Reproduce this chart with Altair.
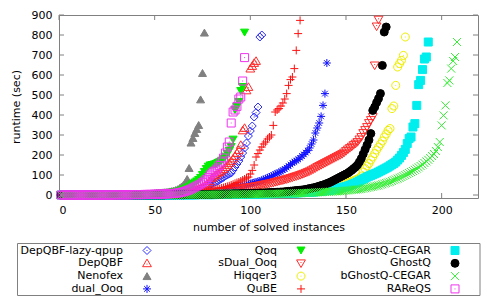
import altair as alt
import pandas as pd

series_names = ["DepQBF-lazy-qpup", "DepQBF", "Nenofex", "dual_Ooq",
                "Qoq", "sDual_Ooq", "Hiqqer3", "QuBE",
                "GhostQ-CEGAR", "GhostQ", "bGhostQ-CEGAR", "RAReQS"]
series_colors = ["#2a2aff", "#ff2a2a", "#808080", "#1010ff",
                 "#00ee00", "#ff2a2a", "#eeee00", "#ff1010",
                 "#00eeee", "#000000", "#33ee33", "#ee33ee"]

x_ticks = [0, 50, 100, 150, 200]
y_ticks = [0, 100, 200, 300, 400, 500, 600, 700, 800, 900]

depqbf_lazy = [
    0,0,0,0,0,0,0,0,0,0, 0,0,0,0,0,0,0,0,0,0, 0,0,0,0,0,0,0,0,0,1,
    1,1,1,1,1,1,1,1,2,2, 2,2,2,2,2,3,3,3,3,3, 4,4,4,5,5,5,6,6,7,7,
    8,9,10,11,12,13,15,17,18,20, 22,24,27,30,33,36,40,45,50,58,
    62,66,70,76,82,88,95,100,105,110, 125,140,155,170,190,210,235,260,295,320,
    345,390,412,440,790,800]
depqbf = [
    0,0,0,0,0,0,0,0,0,0, 0,0,0,0,0,0,0,0,0,0, 0,0,0,0,0,0,0,1,1,1,
    1,1,1,1,1,2,2,2,2,2, 2,3,3,3,3,3,4,4,4,4, 5,5,5,6,6,6,7,7,8,8,
    9,10,11,12,13,14,16,18,20,22, 25,28,31,35,40,45,52,60,70,85,
    92,100,108,115,122,130,140,150,160,170, 182,195,210,225,250,323,335,523,540,632,
    645,660,670]
nenofex = [
    0,0,0,0,0,0,0,0,0,0, 0,0,0,0,0,0,0,0,0,1, 1,1,1,1,1,1,1,2,2,2,
    2,2,2,3,3,3,3,4,4,4, 5,5,5,6,6,7,7,8,8,9, 10,11,12,13,14,15,16,18,20,22,
    25,29,35,42,50,62,80, 135,262,285,310,330,350,478,610,812]
dual_ooq = [
    0,0,0,0,0,0,0,0,0,0, 0,0,0,0,0,0,0,0,0,0, 0,0,0,0,0,0,0,0,0,0,
    0,0,0,0,0,0,0,1,1,1, 1,1,1,1,1,1,1,2,2,2, 2,2,2,2,3,3,3,3,3,3,
    4,4,4,5,5,5,6,6,7,8, 8,9,10,11,11,12,13,14,16,18,
    19,20,21,22,24,25,27,29,31,34, 36,38,40,42,44,46,48,51,54,57,
    60,62,65,68,70,74,78,82,86,90, 94,99,104,109,113,118,124,130,137,145,
    152,160,166,172,178,186,195,203,212,222, 235,255,275,310,335,360,393,448,507,660]
qoq = [
    0,0,0,0,0,0,0,0,0,0, 0,0,0,0,0,0,0,0,0,0, 0,0,0,0,0,1,1,1,1,1,
    1,1,1,1,2,2,2,2,2,2, 3,3,3,3,3,4,4,4,5,5, 5,6,6,7,7,8,9,10,11,12,
    14,16,18,22,26,30,35,40,48,55, 62,68,75,85,100,115,130,142,148,150,
    152,155,160,165,172,180,192,205,220,240, 277,425,440,465,520,540,812]
sdual_ooq = [
    0,0,0,0,0,0,0,0,0,0, 0,0,0,0,0,0,0,0,0,0, 0,0,0,0,0,0,0,0,0,0,
    0,0,0,0,0,0,0,0,0,0, 0,0,0,1,1,1,1,1,1,1, 1,1,2,2,2,2,2,3,3,3,
    3,4,4,4,5,5,5,6,6,7, 7,8,8,9,10,10,11,12,13,14,
    15,16,17,18,19,20,21,23,24,25, 27,28,29,31,32,34,35,37,38,40,
    41,43,44,46,48,50,52,54,56,58, 60,62,65,67,70,72,74,77,79,82,
    85,88,91,94,97,100,104,107,111,115, 119,124,129,134,140,145,150,155,160,165,
    170,175,180,185,190,195,200,205,212,220, 228,235,242,250,257,265,278,290,310,325,
    340,360,375,390,648,843,877]
hiqqer3 = [
    0,0,0,0,0,0,0,0,0,0, 0,0,0,0,0,0,0,0,0,0, 0,0,0,0,0,0,0,0,0,0,
    0,0,0,0,0,0,0,0,0,0, 0,0,0,0,0,0,0,0,0,0, 0,0,0,0,0,0,1,1,1,1,
    1,1,1,1,1,1,1,2,2,2, 2,2,2,2,2,2,3,3,3,3,
    3,3,3,4,4,4,4,4,4,5, 5,5,5,5,6,6,6,6,7,7,
    7,7,8,8,8,9,9,9,10,10, 10,11,11,12,12,13,13,14,14,15,
    15,16,17,18,19,20,21,22,23,24, 25,26,27,28,29,30,31,33,35,37,
    39,41,43,45,47,49,51,53,56,59, 62,65,68,72,76,80,85,95,115,132,
    145,157,175,190,207,225,240,255,270,290, 305,323,332,432,445,548,640,657,673,698,
    790]
qube = [
    0,0,0,0,0,0,0,0,0,0, 0,0,0,0,0,0,0,0,0,0, 0,0,0,0,0,0,0,0,0,0,
    0,0,0,0,0,1,1,1,1,1, 1,1,1,1,2,2,2,2,2,2, 3,3,3,3,3,4,4,4,5,5,
    5,6,6,7,7,8,8,9,10,11, 12,13,14,15,16,18,19,20,22,24,
    26,28,30,32,35,37,40,43,46,50, 54,58,62,65,70,75,80,85,90,105,
    123,150,190,207,225,240,255,265,280,290, 300,348,415,425,432,445,460,480,507,548,
    577,590,632,723,807,873]
ghostq_cegar = [
    0,0,0,0,0,0,0,0,0,0, 0,0,0,0,0,0,0,0,0,0, 0,0,0,0,0,0,0,0,0,0,
    0,0,0,0,0,0,0,0,0,0, 0,0,0,0,0,0,0,0,0,0, 0,0,0,0,0,0,0,0,0,1,
    1,1,1,1,1,1,1,1,1,1, 1,2,2,2,2,2,2,2,2,2,
    2,3,3,3,3,3,3,3,3,3, 4,4,4,4,4,4,4,4,5,5,
    5,5,5,5,6,6,6,6,6,7, 7,7,7,8,8,8,8,9,9,9,
    10,10,10,11,11,12,12,13,13,14, 14,15,15,16,17,18,19,20,21,22,
    23,25,27,29,31,33,35,37,40,42, 45,48,52,56,60,65,70,75,80,85,
    90,94,98,102,106,110,115,120,125,130, 135,140,146,152,158,165,175,185,198,212,
    228,257,282,290,340,357,448,552,573,627, 680,690,765]
ghostq = [
    0,0,0,0,0,0,0,0,0,0, 0,0,0,0,0,0,0,0,0,0, 0,0,0,0,0,0,0,0,0,0,
    0,0,0,0,0,0,0,0,0,0, 0,0,0,0,0,0,0,0,0,0, 0,0,0,0,0,1,1,1,1,1,
    1,1,1,1,1,2,2,2,2,2, 2,2,2,3,3,3,3,3,3,3,
    4,4,4,4,4,5,5,5,5,5, 6,6,6,6,7,7,7,7,8,8,
    8,9,9,9,10,10,10,11,11,12, 12,13,13,14,14,15,15,16,17,18,
    19,20,21,22,23,24,25,26,28,30, 32,34,36,38,41,44,47,50,53,57,
    61,65,70,75,80,85,90,95,100,105, 110,117,124,132,140,150,165,182,205,228,
    250,275,307,423,440,462,482,507,648,815, 840]
bghostq_cegar = [
    0,0,0,0,0,0,0,0,0,0, 0,0,0,0,0,0,0,0,0,0, 0,0,0,0,0,0,0,0,0,0,
    0,0,0,0,0,0,0,0,0,0, 0,0,0,0,0,0,0,0,0,0, 0,0,0,0,0,0,0,0,0,0,
    0,0,0,1,1,1,1,1,1,1, 1,1,1,1,1,1,1,2,2,2,
    2,2,2,2,2,2,2,2,3,3, 3,3,3,3,3,3,3,4,4,4,
    4,4,4,4,5,5,5,5,5,5, 6,6,6,6,6,7,7,7,7,8,
    8,8,8,9,9,9,10,10,10,11, 11,12,12,13,13,14,14,15,15,16,
    16,17,17,18,18,19,19,20,21,22, 23,24,25,26,27,28,29,30,32,34,
    36,38,40,42,44,46,48,51,54,57, 60,63,66,70,74,78,82,86,90,95,
    100,105,110,115,120,126,132,138,145,152, 160,168,176,185,195,205,220,
    240,265,348,398,448,560,573,632,670,690, 765]
rareqs = [
    0,0,0,0,0,0,0,0,0,0, 0,0,0,0,0,0,0,0,0,0, 0,0,0,0,0,0,0,0,1,1,
    1,1,1,1,1,1,1,2,2,2, 2,2,2,2,3,3,3,3,3,4, 4,4,5,5,5,6,6,7,7,8,
    9,10,12,14,16,19,22,26,30,35, 40,45,50,55,62,70,78,88,100,110,
    118,125,135,148,165,185,210,240,265,360, 415,425,443,480,490,570,687]

series_values = [depqbf_lazy, depqbf, nenofex, dual_ooq, qoq, sdual_ooq,
                 hiqqer3, qube, ghostq_cegar, ghostq, bghostq_cegar, rareqs]

DIAMOND_DOT = "M0,-1L1,0L0,1L-1,0Z M-0.12,0L0.12,0"
TRI_UP_DOT = "M0,-1.05L1.1,0.85L-1.1,0.85Z M-0.12,0.2L0.12,0.2"
TRI_DOWN_DOT = "M0,1.05L1.1,-0.85L-1.1,-0.85Z M-0.12,-0.2L0.12,-0.2"
ASTERISK = "M-1,0L1,0M0,-1L0,1M-0.7,-0.7L0.7,0.7M-0.7,0.7L0.7,-0.7"
CIRCLE_DOT = "M-1,0A1,1,0,1,0,1,0A1,1,0,1,0,-1,0Z M-0.12,0L0.12,0"
PLUS = "M-1,0L1,0M0,-1L0,1"
CROSS = "M-1,-1L1,1M-1,1L1,-1"
SQUARE_DOT = "M-1,-1L1,-1L1,1L-1,1Z M-0.12,0L0.12,0"

series_shapes = [DIAMOND_DOT, TRI_UP_DOT, "triangle-up", ASTERISK,
                 "triangle-down", TRI_DOWN_DOT, CIRCLE_DOT, PLUS,
                 "square", "circle", CROSS, SQUARE_DOT]
series_fills = ["transparent", "transparent", "#808080", "transparent",
                "#00ee00", "transparent", "transparent", "transparent",
                "#00eeee", "#000000", "transparent", "transparent"]
series_sizes = [64, 64, 80, 64, 80, 64, 60, 64, 56, 64, 56, 56]

rows = []
for name, vals in zip(series_names, series_values):
    for i, v in enumerate(vals):
        rows.append({"series": name, "solved": i + 1, "runtime": v})
df = pd.DataFrame(rows)

legend_df = pd.DataFrame({
    "series": series_names,
    "lcol": [i // 4 for i in range(len(series_names))],
    "lrow": [i % 4 for i in range(len(series_names))],
})

W, H = 419, 183
FONT = "DejaVu Sans"

x_scale = alt.Scale(domain=[0, 219], nice=False, zero=False)
y_scale = alt.Scale(domain=[-15, 900], nice=False, zero=False)
x_axis = alt.Axis(values=x_ticks, title="number of solved instances", grid=False,
                  domain=False, ticks=False, tickSize=0, labelPadding=6,
                  titlePadding=6)
y_axis = alt.Axis(values=y_ticks, title="runtime (sec)", grid=False,
                  domain=False, ticks=False, tickSize=0, labelPadding=7,
                  titlePadding=10)

shape_scale = alt.Scale(domain=series_names, range=series_shapes)
stroke_scale = alt.Scale(domain=series_names, range=series_colors)
fill_scale = alt.Scale(domain=series_names, range=series_fills)
size_scale = alt.Scale(domain=series_names, range=series_sizes)

def sym_enc():
    return dict(
        shape=alt.Shape("series:N", scale=shape_scale, legend=None),
        stroke=alt.Stroke("series:N", scale=stroke_scale, legend=None),
        fill=alt.Fill("series:N", scale=fill_scale, legend=None),
        size=alt.Size("series:N", scale=size_scale, legend=None),
    )

points = alt.Chart(df).mark_point(filled=False, opacity=1, strokeWidth=1).encode(
    x=alt.X("solved:Q", scale=x_scale, axis=x_axis),
    y=alt.Y("runtime:Q", scale=y_scale, axis=y_axis),
    **sym_enc()
)

xt = pd.DataFrame({"solved": x_ticks})
yt = pd.DataFrame({"runtime": y_ticks})
tick_color = "#808080"
top_ticks = alt.Chart(xt).mark_rule(color=tick_color, strokeWidth=1).encode(
    x=alt.X("solved:Q", scale=x_scale, axis=x_axis), y=alt.value(0), y2=alt.value(5))
bot_ticks = alt.Chart(xt).mark_rule(color=tick_color, strokeWidth=1).encode(
    x=alt.X("solved:Q", scale=x_scale, axis=x_axis), y=alt.value(H), y2=alt.value(H - 5))
left_ticks = alt.Chart(yt).mark_rule(color=tick_color, strokeWidth=1).encode(
    y=alt.Y("runtime:Q", scale=y_scale, axis=y_axis), x=alt.value(0), x2=alt.value(5))
right_ticks = alt.Chart(yt).mark_rule(color=tick_color, strokeWidth=1).encode(
    y=alt.Y("runtime:Q", scale=y_scale, axis=y_axis), x=alt.value(W), x2=alt.value(W - 5))

main = alt.layer(top_ticks, bot_ticks, left_ticks, right_ticks, points)

lx = alt.X("lcol:Q", scale=alt.Scale(domain=[0, 1], range=[88, 242], nice=False, zero=False), axis=None)
ly = alt.Y("lrow:Q", scale=alt.Scale(domain=[0, 1], range=[235.5, 248.3], nice=False, zero=False), axis=None)

leg_text = alt.Chart(legend_df).mark_text(align="right", baseline="middle", dx=-24,
                                          fontSize=11, font=FONT, color="#000000").encode(
    x=lx, y=ly, text="series:N")
leg_sym = alt.Chart(legend_df).mark_point(filled=False, opacity=1, strokeWidth=1).encode(
    x=lx, y=ly, **sym_enc())
leg_box = alt.Chart(pd.DataFrame({"k": [0]})).mark_rect(
    fillOpacity=0, stroke="#808080", strokeWidth=1).encode(
    x=alt.value(-41.5), x2=alt.value(421), y=alt.value(228.5), y2=alt.value(280.5))
legend = alt.layer(leg_box, leg_text, leg_sym)

chart = alt.layer(main, legend).resolve_scale(x="independent", y="independent").properties(
    width=W, height=H,
    padding={"left": 51, "top": 7, "right": 14, "bottom": 102},
    autosize=alt.AutoSizeParams(type="none"),
).configure_view(stroke="#808080", strokeWidth=1).configure_axis(
    labelFont=FONT, titleFont=FONT, labelFontSize=11, titleFontSize=11,
    titleFontWeight="normal", labelColor="#000000", titleColor="#000000",
)

chart.save("out.html", embed_options={"renderer": "svg", "actions": False})
